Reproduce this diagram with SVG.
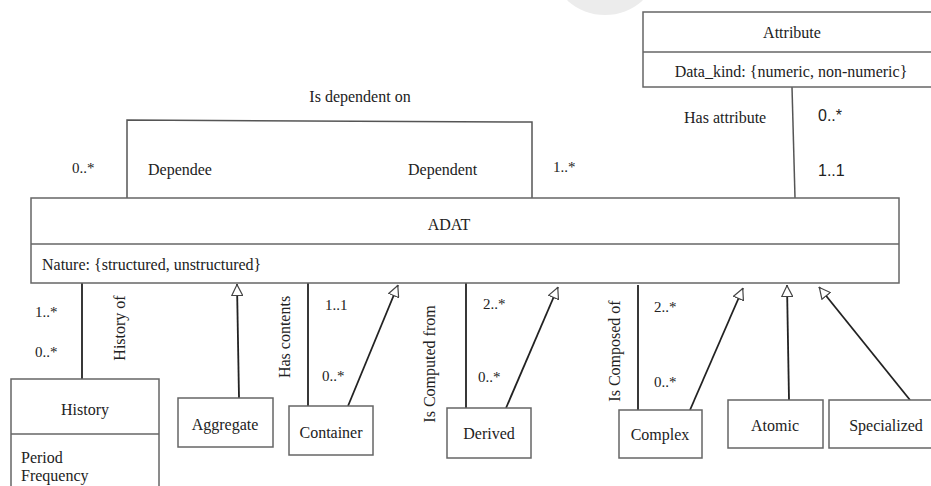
<svg xmlns="http://www.w3.org/2000/svg" width="931" height="486" viewBox="0 0 931 486">
<defs>
<style>
.box{fill:#fff;stroke:#666;stroke-width:1.5}
.t{font-family:"Liberation Serif","Times New Roman",serif;font-size:16px;fill:#222}
.m{font-size:15px}
.c{text-anchor:middle}
.s{font-family:"Liberation Sans",Arial,sans-serif;font-size:16px;fill:#222}
.ln{fill:none;stroke:#222;stroke-width:1.8}
.br{fill:none;stroke:#555;stroke-width:1.5}
</style>
<marker id="gen" viewBox="0 0 10 10" refX="10" refY="5" markerWidth="12" markerHeight="12" markerUnits="userSpaceOnUse" orient="auto">
<path d="M0.5,0.5 L9.5,5 L0.5,9.5 Z" fill="#fff" stroke="#444" stroke-width="1"/>
</marker>
</defs>
<rect width="931" height="486" fill="#fff"/>
<ellipse cx="605" cy="-32" rx="52" ry="47" fill="#ececec"/>

<g id="connectors">
<polyline class="br" points="127,198 127,120 532,122 532,198"/>
<line class="br" x1="792" y1="87" x2="795" y2="198"/>
<line class="ln" x1="82" y1="283" x2="82" y2="379"/>
<line class="ln" x1="239" y1="398" x2="237" y2="284" marker-end="url(#gen)"/>
<line class="ln" x1="308" y1="283" x2="308" y2="406"/>
<line class="ln" x1="348" y1="406" x2="398" y2="285" marker-end="url(#gen)"/>
<line class="ln" x1="466" y1="283" x2="466" y2="408"/>
<line class="ln" x1="506" y1="408" x2="558" y2="287" marker-end="url(#gen)"/>
<line class="ln" x1="638" y1="285" x2="638" y2="410"/>
<line class="ln" x1="690" y1="410" x2="743" y2="288" marker-end="url(#gen)"/>
<line class="ln" x1="789" y1="400" x2="787" y2="285" marker-end="url(#gen)"/>
<line class="ln" x1="910" y1="400" x2="819" y2="287" marker-end="url(#gen)"/>
</g>

<g id="labels">
<text class="t c" x="360" y="102">Is dependent on</text>
<text class="t m" x="72" y="173">0..*</text>
<text class="t" x="148" y="175">Dependee</text>
<text class="t" x="408" y="175">Dependent</text>
<text class="t m" x="553" y="172">1..*</text>
<text class="t" x="684" y="123">Has attribute</text>
<text class="s" x="818" y="121">0..*</text>
<text class="s" x="818" y="176">1..1</text>
<text class="t m" x="35" y="317">1..*</text>
<text class="t m" x="35" y="357">0..*</text>
<text class="t c" transform="translate(125,328) rotate(-90)">History of</text>
<text class="t c" transform="translate(290,337) rotate(-90)">Has contents</text>
<text class="t m" x="325" y="310">1..1</text>
<text class="t m" x="322" y="381">0..*</text>
<text class="t c" transform="translate(435,364) rotate(-90)">Is Computed from</text>
<text class="t m" x="483" y="309">2..*</text>
<text class="t m" x="478" y="382">0..*</text>
<text class="t c" transform="translate(620,351) rotate(-90)">Is Composed of</text>
<text class="t m" x="654" y="312">2..*</text>
<text class="t m" x="654" y="387">0..*</text>
</g>

<g id="adat">
<rect class="box" x="31" y="198" width="868" height="85"/>
<line class="box" x1="31" y1="244" x2="899" y2="244"/>
<text class="t c" x="449" y="230">ADAT</text>
<text class="t" x="42" y="270">Nature: {structured, unstructured}</text>
</g>

<g id="attribute">
<rect class="box" x="643" y="12" width="290" height="75"/>
<line class="box" x1="643" y1="52" x2="933" y2="52"/>
<text class="t c" x="792" y="38">Attribute</text>
<text class="t c" x="791" y="77">Data_kind: {numeric, non-numeric}</text>
</g>

<g id="history">
<rect class="box" x="11" y="379" width="148" height="120"/>
<line class="box" x1="11" y1="434" x2="159" y2="434"/>
<text class="t c" x="85" y="415">History</text>
<text class="t" x="21" y="463">Period</text>
<text class="t" x="21" y="481">Frequency</text>
</g>

<g id="aggregate">
<rect class="box" x="178" y="398" width="95" height="49"/>
<text class="t c" x="225" y="430">Aggregate</text>
</g>

<g id="container">
<rect class="box" x="289" y="406" width="84" height="49"/>
<text class="t c" x="331" y="438">Container</text>
</g>

<g id="derived">
<rect class="box" x="447" y="408" width="84" height="50"/>
<text class="t c" x="489" y="439">Derived</text>
</g>

<g id="complex">
<rect class="box" x="619" y="410" width="83" height="48"/>
<text class="t c" x="660" y="440">Complex</text>
</g>

<g id="atomic">
<rect class="box" x="728" y="400" width="95" height="48"/>
<text class="t c" x="775" y="431">Atomic</text>
</g>

<g id="specialized">
<rect class="box" x="829" y="400" width="110" height="48"/>
<text class="t c" x="886" y="431">Specialized</text>
</g>
</svg>
